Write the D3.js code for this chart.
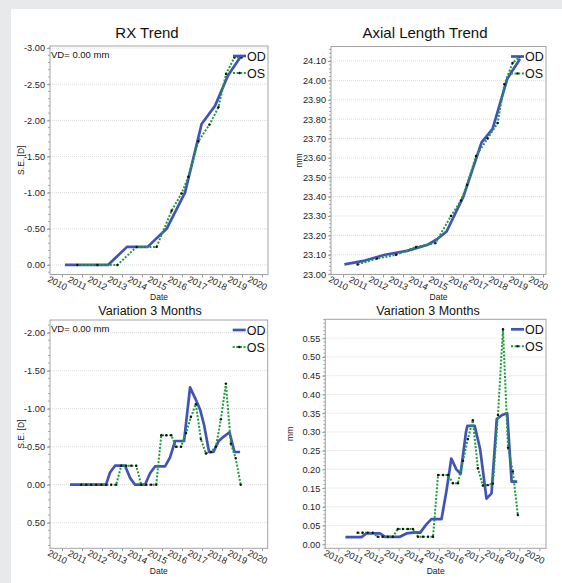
<!DOCTYPE html>
<html>
<head>
<meta charset="utf-8">
<script src="https://cdn.jsdelivr.net/npm/d3@7"></script>
<style>
  body { margin: 0; background: #e8e9eb; }
  svg text { font-family: "Liberation Sans", Arial, sans-serif; }
</style>
</head>
<body>
<svg id="chart" width="562" height="583"></svg>
<script>
const yearTicks = [2010, 2011, 2012, 2013, 2014, 2015, 2016, 2017, 2018, 2019, 2020];

// RX Trend (S.E. in D)
const rxTicks = [-3.00, -2.50, -2.00, -1.50, -1.00, -0.50, 0.00];
const rxOdDates = [2010.15, 2012.3, 2013.25, 2014.28, 2015.23, 2016.15, 2016.98, 2017.65, 2018.3, 2018.98];
const rxOdValues = [0, 0, -0.25, -0.25, -0.50, -1.00, -1.95, -2.20, -2.62, -2.90];
const rxOsDates = [2010.77, 2011.77, 2012.77, 2013.73, 2014.73, 2015.48, 2015.98, 2016.32, 2016.82, 2017.37, 2017.82, 2018.2, 2018.62, 2018.98];
const rxOsValues = [0, 0, 0, -0.25, -0.25, -0.75, -0.99, -1.22, -1.71, -1.94, -2.18, -2.64, -2.87, -2.87];

// Axial Length Trend (mm)
const alTicks = [23.00, 23.10, 23.20, 23.30, 23.40, 23.50, 23.60, 23.70, 23.80, 23.90, 24.00, 24.10];
const alOdDates = [2010.07, 2011.1, 2012.1, 2013.2, 2014.2, 2014.7, 2015.18, 2016.02, 2016.93, 2017.48, 2018.22, 2018.85];
const alOdValues = [23.05, 23.07, 23.10, 23.12, 23.15, 23.18, 23.22, 23.40, 23.68, 23.75, 24.01, 24.11];
const alOsDates = [2010.73, 2011.7, 2012.65, 2013.65, 2014.62, 2015.4, 2015.9, 2016.2, 2016.65, 2017.23, 2017.73, 2018.07, 2018.48, 2018.82];
const alOsValues = [23.05, 23.08, 23.10, 23.14, 23.16, 23.30, 23.38, 23.46, 23.61, 23.70, 23.78, 23.98, 24.09, 24.12];

// Variation 3 Months - shared OS visit dates
const varOsDates = [2010.96, 2011.21, 2011.46, 2011.71, 2011.96, 2012.21, 2012.46, 2012.71, 2012.96, 2013.21, 2013.46,
  2013.71, 2013.96, 2014.21, 2014.46, 2014.71, 2014.96, 2015.21, 2015.46, 2015.7, 2015.95, 2016.2, 2016.44,
  2016.69, 2016.94, 2017.19, 2017.44, 2017.69, 2017.94, 2018.19, 2018.44, 2018.68, 2018.93];

// Variation 3 Months (S.E.)
const vrTicks = [-2.00, -1.50, -1.00, -0.50, 0.00, 0.50];
const vrOdDates = [2010.4, 2012.2, 2012.4, 2012.65, 2013.15, 2013.4, 2013.65, 2014.15, 2014.4, 2014.65, 2015.15, 2015.4,
  2015.65, 2016.1, 2016.4, 2016.65, 2016.9, 2017.1, 2017.35, 2017.57, 2017.82, 2018.07, 2018.37, 2018.62, 2018.9];
const vrOdValues = [0, 0, -0.16, -0.25, -0.25, -0.09, 0, 0, -0.15, -0.24, -0.24, -0.36,
  -0.575, -0.575, -1.28, -1.14, -0.99, -0.785, -0.43, -0.43, -0.57, -0.63, -0.69, -0.43, -0.43];
const vrOsValues = [0, 0, 0, 0, 0, 0, 0, 0, -0.25, -0.25, -0.25, -0.25, 0, 0, 0, 0, -0.65, -0.65, -0.65, -0.50, -0.50,
  -0.68, -0.89, -1.06, -0.60, -0.41, -0.43, -0.50, -0.86, -1.33, -0.54, -0.35, 0];

// Variation 3 Months (mm)
const vaTicks = [0.00, 0.05, 0.10, 0.15, 0.20, 0.25, 0.30, 0.35, 0.40, 0.45, 0.50, 0.55];
const vaOdDates = [2010.35, 2011.15, 2011.4, 2012.07, 2012.32, 2013.06, 2013.39, 2013.8, 2014.07, 2014.38, 2014.63,
  2015.13, 2015.37, 2015.62, 2015.87, 2016.08, 2016.35, 2016.42, 2016.78, 2017.05, 2017.37, 2017.62, 2017.88,
  2018.15, 2018.4, 2018.62, 2018.9];
const vaOdValues = [0.019, 0.019, 0.029, 0.029, 0.020, 0.020, 0.029, 0.032, 0.031, 0.053, 0.067,
  0.067, 0.14, 0.229, 0.20, 0.188, 0.30, 0.316, 0.316, 0.255, 0.122, 0.136, 0.334,
  0.345, 0.35, 0.167, 0.167];
const vaOsValues = [0.031, 0.031, 0.031, 0.031, 0.020, 0.020, 0.020, 0.020, 0.041, 0.041, 0.041, 0.041,
  0.020, 0.020, 0.020, 0.020, 0.185, 0.185, 0.185, 0.163, 0.163, 0.223, 0.281, 0.331, 0.203,
  0.157, 0.158, 0.162, 0.345, 0.574, 0.258, 0.194, 0.078];

const zip = (a, b) => a.map((d, i) => [d, b[i]]);

const charts = [
  { title: 'RX Trend', tx: 147, ty: 37.5, tsize: 15, box: { l: 50, t: 46, r: 268, b: 274.5 },
    xDomain: [2009.4, 2020.3], yDomain: [0.132, -3.028], ticks: rxTicks, minor: 0.1,
    yLabel: 'S.E. [D]', yLabelX: 24, vd: true,
    od: zip(rxOdDates, rxOdValues), os: zip(rxOsDates, rxOsValues) },
  { title: 'Axial Length Trend', tx: 425, ty: 37.5, tsize: 15, box: { l: 331, t: 46.5, r: 546, b: 274.5 },
    xDomain: [2009.4, 2020.15], yDomain: [22.998, 24.175], ticks: alTicks, minor: 0.02,
    yLabel: 'mm', yLabelX: 302, vd: false,
    od: zip(alOdDates, alOdValues), os: zip(alOsDates, alOsValues) },
  { title: 'Variation 3 Months', tx: 150, ty: 314.5, tsize: 12.5, box: { l: 50, t: 320, r: 267.7, b: 548.3 },
    xDomain: [2009.4, 2020.28], yDomain: [0.837, -2.167], ticks: vrTicks, minor: 0.1,
    yLabel: 'S.E. [D]', yLabelX: 24, vd: true,
    od: zip(vrOdDates, vrOdValues), os: zip(varOsDates, vrOsValues) },
  { title: 'Variation 3 Months', tx: 428, ty: 314.5, tsize: 12.5, box: { l: 325.3, t: 319.3, r: 546, b: 548.3 },
    xDomain: [2009.35, 2020.33], yDomain: [-0.0107, 0.6005], ticks: vaTicks, minor: 0.01,
    yLabel: 'mm', yLabelX: 293, vd: false,
    od: zip(vaOdDates, vaOdValues), os: zip(varOsDates, vaOsValues) }
];

const odColor = '#4154b6';
const osColor = '#1d9c3a';

const svg = d3.select('#chart');

svg.append('rect')
  .attr('x', 11).attr('y', 9)
  .attr('width', 551).attr('height', 574)
  .attr('fill', '#fff');

charts.forEach(c => {
  const { l, t, r, b } = c.box;
  const x = d3.scaleLinear().domain(c.xDomain).range([l, r]);
  const y = d3.scaleLinear().domain(c.yDomain).range([b, t]);
  const g = svg.append('g');

  g.append('text')
    .attr('x', c.tx).attr('y', c.ty)
    .attr('text-anchor', 'middle')
    .attr('font-size', c.tsize)
    .attr('fill', '#111')
    .text(c.title);

  // grid
  g.append('g').selectAll('line')
    .data(c.ticks)
    .join('line')
    .attr('x1', l).attr('x2', r)
    .attr('y1', d => y(d)).attr('y2', d => y(d))
    .attr('stroke', '#dcdcdc')
    .attr('stroke-dasharray', '1,1');

  // minor y ticks
  const lo = Math.min(...c.yDomain), hi = Math.max(...c.yDomain);
  const minorVals = d3.range(Math.ceil(lo / c.minor) * c.minor, hi, c.minor);
  g.append('g').selectAll('line')
    .data(minorVals)
    .join('line')
    .attr('x1', l - 1.8).attr('x2', l)
    .attr('y1', d => y(d)).attr('y2', d => y(d))
    .attr('stroke', '#999');

  const yAxis = g.append('g')
    .attr('transform', `translate(${l},0)`)
    .call(d3.axisLeft(y).tickValues(c.ticks).tickFormat(d => d.toFixed(2)).tickSize(3).tickPadding(2));
  yAxis.select('.domain').remove();
  yAxis.selectAll('line').attr('stroke', '#999');
  yAxis.selectAll('text').attr('font-size', 9.2).attr('fill', '#222')
    .style('font-family', '"Liberation Sans", Arial, sans-serif');

  const xAxis = g.append('g')
    .attr('transform', `translate(0,${b})`)
    .call(d3.axisBottom(x).tickValues(yearTicks).tickFormat(d3.format('d')).tickSize(3));
  xAxis.select('.domain').remove();
  xAxis.selectAll('line').attr('stroke', '#999');
  xAxis.selectAll('text')
    .attr('x', 0).attr('y', 0).attr('dy', '0.35em')
    .attr('text-anchor', 'middle')
    .attr('transform', 'translate(-5,8.5) rotate(27)')
    .attr('font-size', 9.2).attr('fill', '#222')
    .style('font-family', '"Liberation Sans", Arial, sans-serif');

  g.append('text')
    .attr('x', (l + r) / 2).attr('y', b + 25.5)
    .attr('text-anchor', 'middle')
    .attr('font-size', 8.5).attr('fill', '#222')
    .text('Date');

  g.append('text')
    .attr('transform', `translate(${c.yLabelX},${(t + b) / 2}) rotate(-90)`)
    .attr('text-anchor', 'middle')
    .attr('font-size', 8.5).attr('fill', '#222')
    .text(c.yLabel);

  const line = d3.line().x(d => x(d[0])).y(d => y(d[1]));

  g.append('path')
    .datum(c.od)
    .attr('fill', 'none')
    .attr('stroke', odColor)
    .attr('stroke-width', 2.7)
    .attr('stroke-linejoin', 'round')
    .attr('d', line);

  g.append('path')
    .datum(c.os)
    .attr('fill', 'none')
    .attr('stroke', osColor)
    .attr('stroke-width', 2)
    .attr('stroke-dasharray', '2,1.6')
    .attr('d', line);

  g.append('g').selectAll('circle')
    .data(c.os)
    .join('circle')
    .attr('cx', d => x(d[0])).attr('cy', d => y(d[1]))
    .attr('r', 1.2)
    .attr('fill', '#111');

  if (c.vd) {
    g.append('text')
      .attr('x', l + 1).attr('y', t + 11.5)
      .attr('font-size', 9.5).attr('fill', '#111')
      .text('VD= 0.00 mm');
  }

  // legend
  const legend = g.append('g');
  [['OD', t + 10], ['OS', t + 27]].forEach(([name, ly]) => {
    const isOd = name === 'OD';
    legend.append('line')
      .attr('x1', r - 35).attr('x2', r - 22)
      .attr('y1', ly).attr('y2', ly)
      .attr('stroke', isOd ? odColor : osColor)
      .attr('stroke-width', isOd ? 2.7 : 2)
      .attr('stroke-dasharray', isOd ? null : '2,1.6');
    if (!isOd) {
      legend.append('circle')
        .attr('cx', r - 28.5).attr('cy', ly).attr('r', 1.2).attr('fill', '#111');
    }
    legend.append('text')
      .attr('x', r - 21).attr('y', ly).attr('dy', '0.36em')
      .attr('font-size', 12.5).attr('fill', '#111')
      .text(name);
  });

  g.append('rect')
    .attr('x', l).attr('y', t)
    .attr('width', r - l).attr('height', b - t)
    .attr('fill', 'none')
    .attr('stroke', '#a3a3a3');
});
</script>
</body>
</html>
